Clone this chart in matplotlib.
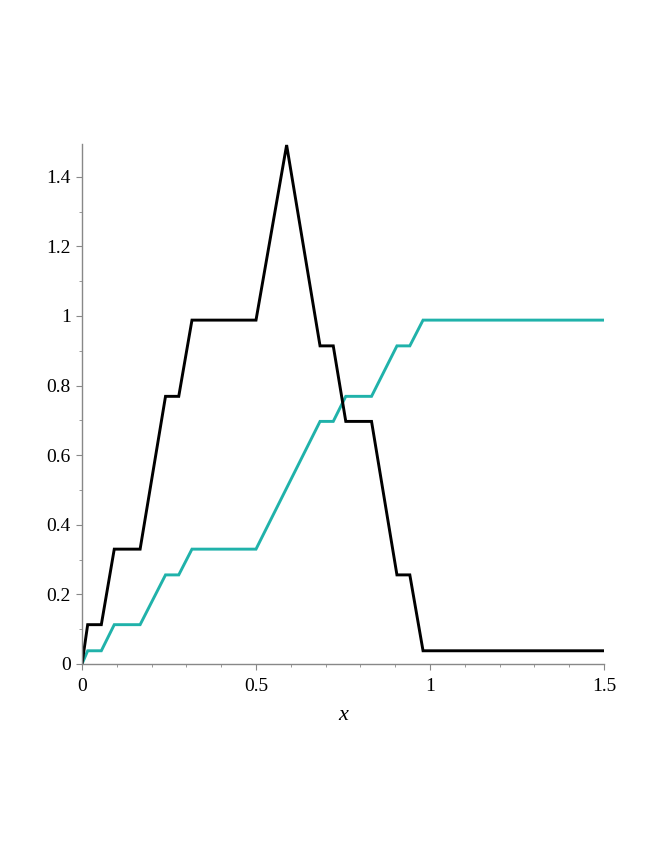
import matplotlib.pyplot as plt
from matplotlib.ticker import MultipleLocator

# Data (breakpoints)
x_pts = [0, 0.0163, 0.0555, 0.0927, 0.167, 0.240, 0.278, 0.316, 0.5, 0.588,
         0.684, 0.722, 0.758, 0.832, 0.905, 0.942, 0.980, 1.5]
black_y = [0, 0.113, 0.113, 0.330, 0.330, 0.769, 0.769, 0.988, 0.988, 1.491,
           0.914, 0.914, 0.697, 0.697, 0.256, 0.256, 0.038, 0.038]
teal_x = [0, 0.0163, 0.0555, 0.0927, 0.167, 0.240, 0.278, 0.316, 0.5,
          0.684, 0.722, 0.758, 0.832, 0.905, 0.942, 0.980, 1.5]
teal_y = [0, 0.038, 0.038, 0.113, 0.113, 0.256, 0.256, 0.330, 0.330,
          0.697, 0.697, 0.769, 0.769, 0.914, 0.914, 0.988, 0.988]

plt.rcParams['font.family'] = ['Liberation Serif', 'DejaVu Serif']

fig = plt.figure(figsize=(6.64, 8.6), dpi=100)
ax = fig.add_axes([82 / 664, 1 - 664 / 860, 522 / 664, 520 / 860])

ax.plot(teal_x, teal_y, color='#20B2AA', lw=2.1, solid_joinstyle='miter')
ax.plot(x_pts, black_y, color='black', lw=2.1, solid_joinstyle='miter')

ax.set_xlim(0, 1.5)
ax.set_ylim(0, 1.494)
ax.xaxis.set_major_locator(MultipleLocator(0.5))
ax.xaxis.set_minor_locator(MultipleLocator(0.1))
ax.yaxis.set_major_locator(MultipleLocator(0.2))
ax.yaxis.set_minor_locator(MultipleLocator(0.1))
ax.xaxis.set_major_formatter(plt.FuncFormatter(lambda v, p: f'{v:g}'))
ax.yaxis.set_major_formatter(plt.FuncFormatter(lambda v, p: f'{v:g}'))

for s in ['top', 'right']:
    ax.spines[s].set_visible(False)
for s in ['left', 'bottom']:
    ax.spines[s].set_color('#888888')
    ax.spines[s].set_linewidth(1.0)

ax.tick_params(which='both', direction='out', color='#888888', labelsize=14)
ax.tick_params(which='major', length=4, pad=4)
ax.tick_params(axis='x', which='major', pad=6)
ax.tick_params(which='minor', length=2.5)

ax.set_xlabel('x', fontsize=16, style='italic', labelpad=8)

plt.savefig('out.png', dpi=100)
